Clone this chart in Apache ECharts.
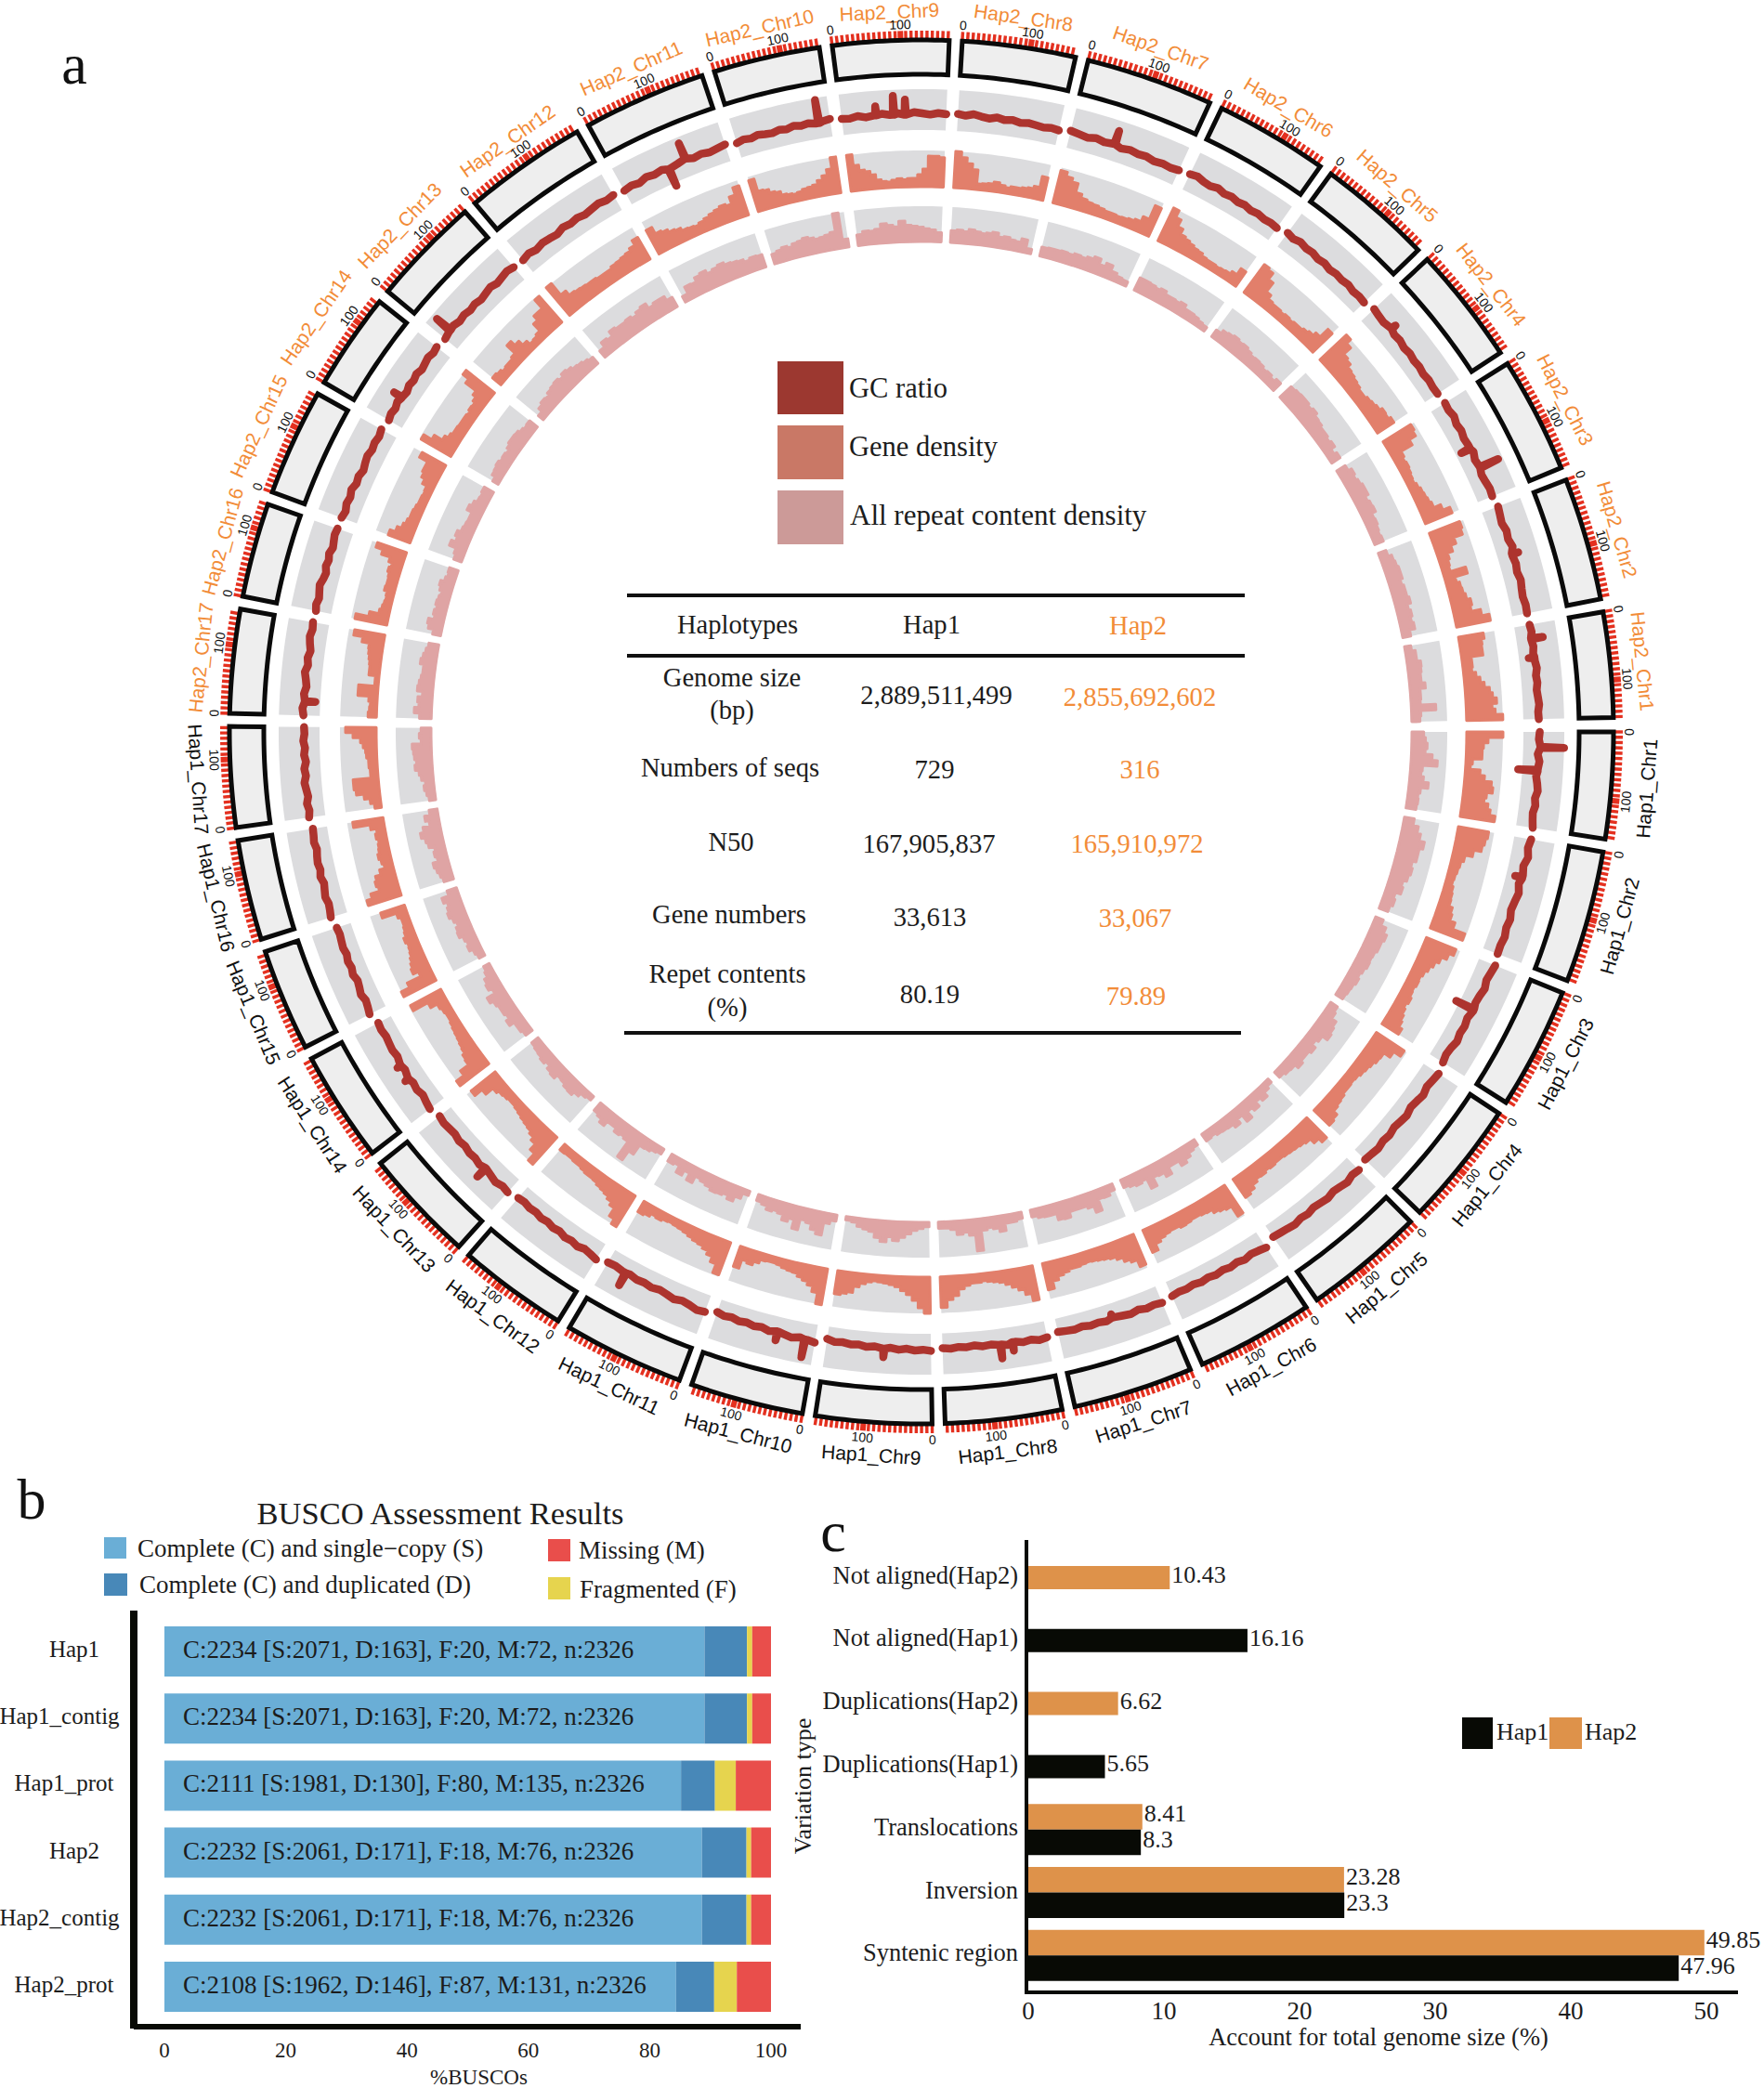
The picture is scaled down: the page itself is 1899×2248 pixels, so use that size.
<!DOCTYPE html>
<html><head><meta charset="utf-8"><style>html,body{margin:0;padding:0;background:#fff}#c{width:1899px;height:2248px}</style>
<script src="https://cdn.jsdelivr.net/npm/echarts@6/dist/echarts.min.js"></script></head><body><div id="c"></div>
<script>
const chrNames=["Hap1_Chr1","Hap1_Chr2","Hap1_Chr3","Hap1_Chr4","Hap1_Chr5","Hap1_Chr6","Hap1_Chr7","Hap1_Chr8","Hap1_Chr9","Hap1_Chr10","Hap1_Chr11","Hap1_Chr12","Hap1_Chr13","Hap1_Chr14","Hap1_Chr15","Hap1_Chr16","Hap1_Chr17",
"Hap2_Chr17","Hap2_Chr16","Hap2_Chr15","Hap2_Chr14","Hap2_Chr13","Hap2_Chr12","Hap2_Chr11","Hap2_Chr10","Hap2_Chr9","Hap2_Chr8","Hap2_Chr7","Hap2_Chr6","Hap2_Chr5","Hap2_Chr4","Hap2_Chr3","Hap2_Chr2","Hap2_Chr1"];
const chrLengths=[157,195,180,185,178,173,177,172,171,167,178,162,167,164,151,148,148,153,139,158,143,162,182,181,157,171,167,188,167,169,173,171,181,155];
const geneDensity=[
[100,60,48,45,45,20,15,42,55,75,80,65,60,72,80,95],
[85,80,75,55,35,28,25,22,20,25,28,30,40,45,60,95],
[88,75,60,50,42,35,30,32,28,30,35,30,35,40,45,55],
[92,70,50,48,42,38,35,30,28,30,30,35,38,42,55,60],
[78,65,50,45,42,40,38,35,35,38,35,40,38,45,55,62],
[92,60,55,50,40,38,35,35,38,40,35,35,38,42,50,68],
[90,70,62,50,42,38,35,32,30,32,35,35,40,45,55,75],
[95,75,60,50,40,32,28,25,22,25,25,30,38,55,65,85],
[100,85,65,50,40,30,25,22,20,18,22,28,38,55,60,65],
[100,70,55,45,38,30,28,25,20,18,18,20,30,40,35,60],
[95,70,55,45,38,35,30,25,22,20,18,20,25,22,30,35],
[100,85,60,50,42,38,35,30,28,28,25,22,22,20,20,22],
[100,75,55,45,38,35,32,28,25,22,22,25,28,35,60,85],
[100,75,48,45,38,35,32,30,28,25,22,22,25,30,50,95],
[100,75,35,50,45,40,35,32,30,35,28,25,22,22,30,70],
[95,80,55,60,55,40,25,30,35,30,28,25,30,25,40,85],
[20,30,45,65,70,70,22,22,25,25,30,32,38,45,65,85],
[25,22,20,25,55,55,12,12,30,30,32,35,38,40,60,85],
[90,55,30,25,22,20,22,30,28,28,30,35,30,40,65,85],
[65,50,38,32,28,28,25,22,22,20,22,35,45,50,50,75],
[95,70,45,35,30,30,28,28,28,25,30,28,35,45,80,100],
[32,28,22,25,25,30,60,45,30,18,20,25,50,65,65,95],
[100,60,45,42,40,38,38,35,35,35,40,42,45,48,55,70],
[75,55,50,42,38,30,28,25,30,35,40,45,50,45,65,85],
[90,55,52,42,38,28,25,22,25,30,32,35,45,55,70,100],
[100,70,55,50,40,25,20,18,22,25,22,25,25,35,50,85,85,82],
[100,85,70,55,18,20,22,28,22,18,22,22,25,28,35,65],
[92,80,70,45,35,30,28,25,22,22,20,22,25,30,45,85],
[100,80,60,45,40,35,30,28,22,20,20,18,20,22,30,50],
[95,90,70,40,28,25,25,22,25,22,25,25,30,35,45,75],
[100,85,60,55,45,42,38,35,30,30,35,38,42,50,48,55],
[90,85,65,30,25,28,25,22,20,25,30,32,35,40,60,80],
[90,85,60,45,30,25,22,65,30,38,40,45,55,50,75,95],
[70,62,60,60,28,28,25,35,45,55,68,75,85,72,80,100]];
const repeatDensity=[
[35,40,45,40,60,75,35,32,40,55,35,30,32,30],
[30,45,55,70,60,60,50,55,50,40,45,30,35,28],
[25,40,50,45,45,40,38,40,35,30,35,30,28,25],
[25,30,45,50,55,38,30,42,35,35,42,30,28,22],
[15,22,35,25,40,30,50,28,42,32,30,28,22,25],
[20,25,35,45,30,30,50,38,35,60,30,35,30,25],
[20,30,28,60,42,35,35,35,50,48,30,30,28,22],
[20,25,25,45,35,30,35,90,45,35,40,25,20,20],
[15,20,25,35,45,55,45,60,50,35,30,25,15,12],
[20,30,65,55,40,35,65,40,50,35,30,35,25,20],
[15,30,45,35,40,42,35,30,25,45,25,40,20,25],
[18,22,28,30,60,90,40,35,40,30,30,45,35,30],
[15,20,30,40,38,32,30,42,38,28,35,30,28,25],
[25,30,30,45,35,40,40,45,55,30,40,35,25,20],
[20,25,35,30,35,45,42,35,42,50,45,40,50,30],
[30,35,40,45,30,35,30,45,50,60,50,30,40,25],
[20,25,30,25,35,40,50,45,50,52,55,30,35,30],
[35,50,38,42,30,45,42,38,35,35,45,40,35,30],
[25,40,45,30,35,30,35,32,28,35,40,30,25,28],
[25,30,50,38,45,35,32,30,30,45,38,30,28,32],
[20,30,32,35,30,32,28,35,40,40,38,32,28,30],
[20,32,38,35,42,45,48,42,50,45,38,35,30,25],
[25,40,35,50,45,45,48,42,50,55,40,45,45,32],
[20,40,38,50,55,45,50,55,48,45,42,35,40,38],
[30,35,40,35,42,45,50,45,40,42,45,50,100,25],
[32,40,38,42,55,50,45,60,48,45,42,38,35,28],
[35,38,35,42,38,35,38,42,32,35,30,28,38,15],
[28,30,30,32,30,35,32,38,45,30,40,25,18,15],
[40,40,38,35,40,32,32,30,35,25,25,22,18,15],
[25,35,38,42,38,40,35,30,32,30,25,28,22,30],
[45,48,50,50,45,50,42,40,35,35,30,35,22,30],
[30,40,35,40,45,45,35,40,42,30,32,28,25,28],
[25,35,38,42,42,35,40,40,45,35,40,35,40,25],
[20,30,30,40,38,35,35,45,30,30,28,70,28,25]];
const gcRatio=[
[40,38,42,36,41,38,35,39,42,37,40,36,38,41],
[42,38,43,36,40,35,41,37,34,39,36,40,37,38],
[43,40,37,42,38,36,40,35,39,37,41,36,34,38],
[44,41,38,43,39,36,41,38,35,39,36,40,37,35],
[42,39,44,40,37,41,38,35,39,36,40,37,35,33],
[45,41,38,42,37,40,36,39,35,38,34,37,35,38],
[43,40,42,37,41,38,35,39,36,38,34,37,35,33],
[40,43,38,41,37,42,39,36,38,34,37,35,38,36],
[42,39,41,37,40,36,39,35,38,34,36,33,35,30],
[44,41,38,43,39,36,40,35,38,34,37,33,36,32],
[42,45,40,37,42,38,35,39,36,38,34,36,33,35],
[44,40,37,42,38,41,36,39,35,38,34,36,33,35],
[42,39,44,40,36,41,37,39,35,38,34,36,38,35],
[43,40,36,41,38,42,37,40,35,38,36,34,37,35],
[44,40,37,42,38,35,40,36,39,35,38,36,34,36],
[42,39,37,41,38,35,40,36,39,37,34,38,36,35],
[40,37,41,36,39,42,37,40,35,39,36,40,37,38],
[40,43,38,41,36,39,43,37,40,35,39,42,38,40],
[38,41,37,40,43,38,35,40,37,41,36,39,42,40],
[40,36,41,38,43,37,40,35,39,42,38,41,38,42],
[37,41,38,43,39,36,41,38,42,37,40,43,39,42],
[38,42,44,39,42,38,41,37,40,43,38,41,44,40],
[38,42,37,41,39,36,42,38,41,37,40,43,39,42],
[38,41,37,43,39,42,37,40,44,38,41,37,40,43],
[37,41,38,42,39,37,41,38,43,39,42,38,41,44],
[40,38,42,37,40,43,39,42,38,44,41,38,42,40],
[42,39,44,40,37,42,38,41,37,40,38,36,39,37],
[43,40,37,42,38,41,36,40,37,39,35,38,36,39],
[42,45,40,38,43,38,41,37,40,36,39,36,38,36],
[42,38,43,39,41,37,40,36,39,37,40,36,38,36],
[43,40,38,42,38,40,36,39,36,38,35,38,36,37],
[40,38,42,37,40,36,38,42,36,39,35,37,40,38],
[42,39,36,41,38,43,36,39,36,40,37,35,38,37],
[38,40,36,39,36,38,41,37,39,36,38,40,37,38]];
const gcSpikes=[
[[25,100],[63,-10]],[[64,22]],[[80,-8]],[],[],[],[[85,26]],[[57,58],[77,73]],[[77,60]],[[17,85],[63,58]],[[144,70]],[],[[53,65]],[[60,52],[85,50]],[],[],[],
[[23,12]],[],[],[[43,62]],[[16,85]],[],[[81,-8],[112,85]],[[138,95]],[[56,62],[85,85],[104,75]],[],[[75,75]],[],[],[[43,55]],[[85,14],[120,88]],[[81,52]],[[23,65],[54,24]]];
const buscoS=[2071,2071,1981,2061,2061,1962];
const buscoCategories=["Hap1","Hap1_contig","Hap1_prot","Hap2","Hap2_contig","Hap2_prot"];
const buscoD=[163,163,130,171,171,146];
const buscoF=[20,20,80,18,18,87];
const buscoM=[72,72,135,76,76,131];
const buscoN=2326;
const buscoLabels=["C:2234 [S:2071, D:163], F:20, M:72, n:2326","C:2234 [S:2071, D:163], F:20, M:72, n:2326","C:2111 [S:1981, D:130], F:80, M:135, n:2326","C:2232 [S:2061, D:171], F:18, M:76, n:2326","C:2232 [S:2061, D:171], F:18, M:76, n:2326","C:2108 [S:1962, D:146], F:87, M:131, n:2326"];
const variationCategories=["Not aligned(Hap2)","Not aligned(Hap1)","Duplications(Hap2)","Duplications(Hap1)","Translocations","Inversion","Syntenic region"];
const singleHap2=[10.43,null,6.62,null,null,null,null];
const singleHap1=[null,16.16,null,5.65,null,null,null];
const pairedHap2=[null,null,null,null,8.41,23.28,49.85];
const pairedHap1=[null,null,null,null,8.3,23.3,47.96];

const SANS='"Liberation Sans",Arial,sans-serif',SERIF='"Liberation Serif","Times New Roman",serif';
const ORANGE='#f28c38',HAP2C='#de924a',BLK='#080a05';
const GAP=19,ANGLE_MAX=6338;
const TR={ring:[708,745],gc:[648,692],gene:[586,626],rep:[527,566]};
const LABEL_R={Hap1_Chr1:783,Hap2_Chr15:786,Hap2_Chr14:790,Hap2_Chr13:783,Hap2_Chr12:777,Hap2_Chr10:778,Hap2_Chr9:776,Hap2_Chr8:777};
const starts=[];let cum=0;chrLengths.forEach(l=>{starts.push(cum);cum+=l+GAP;});
const perc=a=>a.map(v=>v/buscoN*100);

function band(api,i,r0,r1){const s=starts[i],l=chrLengths[i],pts=[],n=16;
 for(let k=0;k<=n;k++)pts.push(api.coord([r1,s+l*k/n]));
 for(let k=n;k>=0;k--)pts.push(api.coord([r0,s+l*k/n]));return pts;}
const polarData=chrNames.map((n,i)=>[700,starts[i]+chrLengths[i]/2,i]);
function polarSeries(name,fn,z){return {type:'custom',name,coordinateSystem:'polar',polarIndex:0,data:polarData,encode:{radius:0,angle:1},clip:false,silent:true,z:z||2,renderItem:(p,api)=>fn(p.dataIndex,api)};}
function bandS(name,r,fill,stroke,lw,z){return polarSeries(name,(i,api)=>({type:'polygon',shape:{points:band(api,i,r[0],r[1])},style:{fill,stroke:stroke||null,lineWidth:lw||0,lineJoin:'miter'}}),z);}
function density(name,arr,r,color){return polarSeries(name,(i,api)=>{const v=arr[i],s=starts[i],w=chrLengths[i]/v.length,h=r[1]-r[0],pts=[];
 for(let k=0;k<=8;k++)pts.push(api.coord([r[0]+1,s+chrLengths[i]*k/8]));
 pts.reverse();
 v.forEach((x,k)=>{const rr=r[0]+Math.max(x,3)/100*h;pts.push(api.coord([rr,s+k*w]));pts.push(api.coord([rr,s+(k+1)*w]));});
 return {type:'polygon',shape:{points:pts},style:{fill:color,stroke:color,lineWidth:3,lineJoin:'round'}};},4);}
const gcSeries=polarSeries('GC ratio',(i,api)=>{const v=gcRatio[i],s=starts[i],L=chrLengths[i],r=TR.gc,h=r[1]-r[0];
 let items=v.map((x,k)=>({mb:k*L/(v.length-1),val:x}));
 gcSpikes[i].forEach(sp=>{const near=v[Math.round(sp[0]/L*(v.length-1))];items.push({mb:sp[0]-1.2,val:near},{mb:sp[0],val:sp[1]},{mb:sp[0]+1.2,val:near});});
 items=items.sort((a,b)=>a.mb-b.mb);
 const pts=items.map(t=>api.coord([r[0]+t.val/100*h,s+t.mb]));
 return {type:'polyline',shape:{points:pts},style:{stroke:'#ad342e',fill:null,lineWidth:8.5,lineCap:'round',lineJoin:'round'}};},5);
const TICK=100/13;
const tickSeries=polarSeries('ticks',(i,api)=>{const ch=[],s=starts[i];
 for(let m=0;m<=chrLengths[i];m+=TICK){const a=api.coord([745,s+m]),b=api.coord([755,s+m]);
  ch.push({type:'line',shape:{x1:a[0],y1:a[1],x2:b[0],y2:b[1]},style:{stroke:'#e4301f',lineWidth:Math.abs(m-100)<1?6:3.4}});}
 return {type:'group',children:ch};},3);
const deg=v=>v/ANGLE_MAX*360;
function rot(i,mb){const t=deg(mb);return (i<17?(90-t):(270-t))*Math.PI/180;}
function textEl(api,r,mb,i,text,size,fill){const p=api.coord([r,mb]);return {type:'text',x:p[0],y:p[1],rotation:rot(i,mb),style:{text,textAlign:'center',textVerticalAlign:'middle',fontSize:size,fontFamily:SANS,fill}};}
const labelSeries=polarSeries('chromosome labels',(i,api)=>{const mid=starts[i]+chrLengths[i]/2;
 return {type:'group',children:[
 textEl(api,LABEL_R[chrNames[i]]||780,mid,i,chrNames[i],21,i<17?'#111':ORANGE),
 textEl(api,762,starts[i],i,'0',14,'#111'),
 textEl(api,762,starts[i]+100,i,'100',14,'#111')]};},6);

const serif=(text,x,y,size,fill,align,rotation)=>({type:'text',x,y,rotation:rotation||0,silent:true,style:{text,textAlign:align||'center',textVerticalAlign:'middle',fontSize:size,fontFamily:SERIF,fill:fill||'#1c1c1c'}});
const rect=(x,y,w,h,fill)=>({type:'rect',silent:true,shape:{x,y,width:w,height:h},style:{fill}});
const T=ORANGE,TF=28.6;
const elements=[
 serif('a',80,69,62,'#111'),serif('b',34,1614,62,'#111'),serif('c',897,1649,62,'#111'),
 rect(837,389,71,57,'#9c3830'),rect(837,458,71,58,'#c97866'),rect(837,528,71,58,'#cc9a98'),
 serif('GC ratio',914,418,30.5,null,'left'),serif('Gene density',914,481,30.5,null,'left'),serif('All repeat content density',915,554,31,null,'left'),
 rect(675,639,665,4,'#111'),rect(675,704,665,4,'#111'),rect(672,1110,664,4,'#111'),
 serif('Haplotypes',794,672,TF),serif('Hap1',1003,672,TF),serif('Hap2',1225,673,TF,T),
 serif('Genome size',788,729,TF),serif('(bp)',788,764,TF),serif('2,889,511,499',1008,748,TF),serif('2,855,692,602',1227,750,TF,T),
 serif('Numbers of seqs',786,826,TF),serif('729',1006,828,TF),serif('316',1227,828,TF,T),
 serif('N50',787,906,TF),serif('167,905,837',1000,908,TF),serif('165,910,972',1224,908,TF,T),
 serif('Gene numbers',785,984,TF),serif('33,613',1001,987,TF),serif('33,067',1222,988,TF,T),
 serif('Repet contents',783,1048,TF),serif('(%)',783,1084,TF),serif('80.19',1001,1070,TF),serif('79.89',1223,1072,TF,T),
 serif('BUSCO Assessment Results',474,1629,34.5),
 rect(112,1655,24,23,'#6aaed6'),rect(112,1694,25,24,'#4888b8'),rect(590,1657,24,24,'#e94e4b'),rect(590,1698,24,24,'#e6d44e'),
 serif('Complete (C) and single\u2212copy (S)',148,1667,27,null,'left'),serif('Complete (C) and duplicated (D)',150,1706,27,null,'left'),
 serif('Missing (M)',623,1669,27,null,'left'),serif('Fragmented (F)',624,1711,27,null,'left'),
 rect(140,1734,8,450,BLK),rect(144,2179,718,6,BLK),
 rect(1103,1658,4,489,BLK),rect(1103,2143,768,4,BLK),
 rect(1574,1849,33,34,BLK),rect(1668,1849,35,34,HAP2C),serif('Hap1',1611,1864,26,null,'left'),serif('Hap2',1706,1864,26,null,'left'),
 serif('Variation type',864,1923,26,null,'center',Math.PI/2)
];
const busco=(name,data,color,extra)=>Object.assign({type:'bar',name,xAxisIndex:0,yAxisIndex:0,stack:'b',barWidth:54,data:perc(data),itemStyle:{color},silent:true,z:3},extra||{});
const vbar=(name,data,color,axis,w,gap)=>({type:'bar',name,xAxisIndex:1,yAxisIndex:axis,data,barWidth:w,barGap:gap,itemStyle:{color},silent:true,z:3,
 label:{show:true,position:'right',distance:2,offset:[0,-3],fontFamily:SERIF,fontSize:26,color:'#1c1c1c',formatter:p=>p.value}});
const yLabelStyle={fontFamily:SERIF,fontSize:25,color:'#1c1c1c'};
const vLabelStyle={fontFamily:SERIF,fontSize:26.5,color:'#1c1c1c',padding:[0,0,6,0]};
const chart=echarts.init(document.getElementById('c'),null,{renderer:'svg',width:1899,height:2248});
chart.setOption({animation:false,backgroundColor:'#fff',
 polar:{center:[992,788],radius:820},
 angleAxis:{type:'value',min:0,max:ANGLE_MAX,startAngle:0,show:false},
 radiusAxis:{type:'value',min:0,max:820,show:false},
 grid:[{left:177,top:1742,width:653,height:433,outerBoundsMode:'none'},{left:1107,top:1664.6,width:730,height:474.6,outerBoundsMode:'none'}],
 xAxis:[
  {gridIndex:0,type:'value',min:0,max:100,interval:20,splitLine:{show:false},axisLine:{show:false},axisTick:{length:20,lineStyle:{color:'#333',width:1.5}},axisLabel:{margin:21,fontFamily:SERIF,fontSize:23,color:'#1c1c1c'},name:'%BUSCOs',nameLocation:'middle',nameGap:50,nameTextStyle:{fontFamily:SERIF,fontSize:23,color:'#1c1c1c',padding:[0,0,0,24]}},
  {gridIndex:1,type:'value',min:0,max:50,interval:10,splitLine:{show:false},axisLine:{show:false},axisTick:{length:12,lineStyle:{color:'#222',width:1.5}},axisLabel:{margin:12,fontFamily:SERIF,fontSize:27,color:'#1c1c1c'},name:'Account for total genome size (%)',nameLocation:'middle',nameGap:38,nameTextStyle:{fontFamily:SERIF,fontSize:26.5,color:'#1c1c1c',padding:[0,0,0,24]}}
 ],
 yAxis:[
  {gridIndex:0,type:'category',inverse:true,data:buscoCategories,axisLine:{show:false},axisTick:{show:false},
   axisLabel:{margin:97,align:'center',formatter:v=>v.endsWith('contig')?`{c|${v}}`:v.endsWith('prot')?`{p|${v}}`:`{h|${v}}`,
    rich:{c:Object.assign({padding:[0,32,5,0]},yLabelStyle),p:Object.assign({padding:[0,22,5,0]},yLabelStyle),h:Object.assign({padding:[0,0,5,0]},yLabelStyle)}}},
  {gridIndex:1,type:'category',inverse:true,data:variationCategories,axisLine:{show:false},axisTick:{length:7,lineStyle:{color:BLK,width:3.5}},axisLabel:{margin:11,formatter:v=>`{v|${v}}`,rich:{v:vLabelStyle}}},
  {gridIndex:1,type:'category',inverse:true,data:variationCategories,show:false}
 ],
 graphic:{elements},
 series:[
  bandS('GC track',TR.gc,'#dcdcde'),bandS('Gene track',TR.gene,'#dcdcde'),bandS('Repeat track',TR.rep,'#dcdcde'),
  bandS('Chromosomes',TR.ring,'#eeeeee','#0a0a0a',5,4),tickSeries,
  density('Gene density',geneDensity,TR.gene,'#e27f6b'),density('All repeat content density',repeatDensity,TR.rep,'#dfa4a4'),gcSeries,labelSeries,
  busco('Complete (C) and single-copy (S)',buscoS,'#6aaed6',{label:{show:true,position:'insideLeft',distance:20,offset:[0,-2],fontFamily:SERIF,fontSize:27,color:'#1c1c1c',formatter:p=>buscoLabels[p.dataIndex]}}),
  busco('Complete (C) and duplicated (D)',buscoD,'#4888b8'),busco('Fragmented (F)',buscoF,'#e6d44e'),busco('Missing (M)',buscoM,'#e94e4b'),
  vbar('Hap2',pairedHap2,HAP2C,1,27.5,0),vbar('Hap1',pairedHap1,BLK,1,27.5,0),
  vbar('Hap2',singleHap2,HAP2C,2,25,'-100%'),vbar('Hap1',singleHap1,BLK,2,25,'-100%')
 ]});
</script></body></html>
